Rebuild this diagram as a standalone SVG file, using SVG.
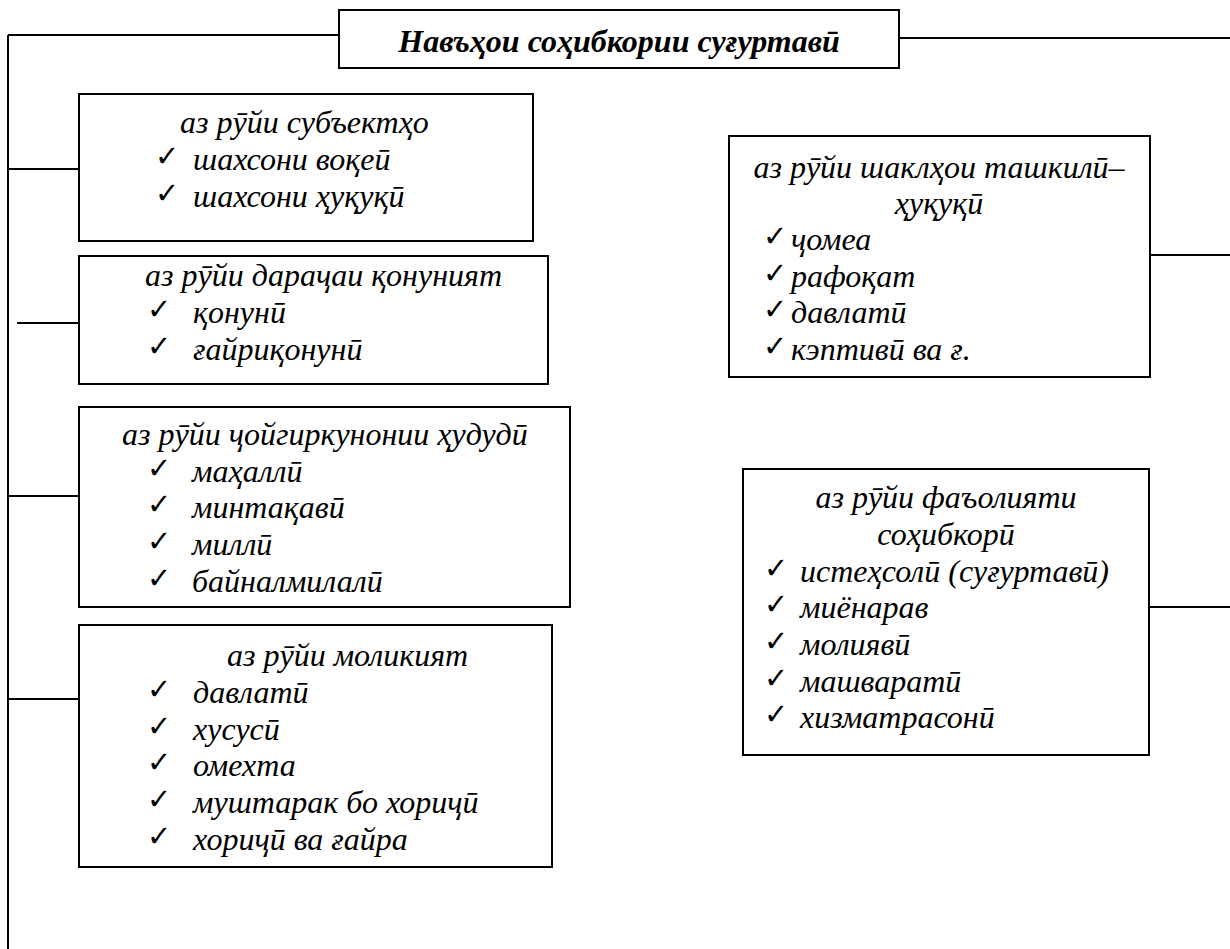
<svg xmlns="http://www.w3.org/2000/svg" width="1230" height="949" viewBox="0 0 1230 949">
<style>
.box{fill:#fff;stroke:#000;stroke-width:2}
.ln{fill:none;stroke:#000;stroke-width:2}
.t{font-family:"Liberation Serif","Times New Roman",serif;font-style:italic;font-size:32px;fill:#000}
.h{font-family:"Liberation Serif","Times New Roman",serif;font-style:italic;font-weight:bold;font-size:32px;fill:#000}
.c{font-family:"DejaVu Sans",sans-serif;font-weight:bold;font-size:29px;fill:#000}
.m{text-anchor:middle}
</style>
<rect width="1230" height="949" fill="#fff"/>
<g id="connectors">
<path class="ln" d="M8 35 H339 M8 35 V949 M899 38 H1230 M8 169 H79 M17 323 H88 M8 496 H79 M8 699 H79 M1150 255 H1230 M1149 607 H1230"/>
</g>
<g id="title">
<rect class="box" x="339" y="10" width="560" height="58"/>
<text class="h m" x="619" y="52">Навъҳои соҳибкории суғуртавӣ</text>
</g>
<g id="subjects">
<rect class="box" x="79" y="94" width="454" height="147"/>
<text class="t" x="180" y="133">аз рӯйи субъектҳо</text>
<text class="c" x="155" y="166">✓</text><text class="t" x="193" y="170">шахсони воқеӣ</text>
<text class="c" x="155" y="203">✓</text><text class="t" x="193" y="207">шахсони ҳуқуқӣ</text>
</g>
<g id="legality">
<rect class="box" x="79" y="256" width="469" height="128"/>
<text class="t" x="145" y="286">аз рӯйи дараҷаи қонуният</text>
<text class="c" x="147" y="319">✓</text><text class="t" x="193" y="323">қонунӣ</text>
<text class="c" x="147" y="356">✓</text><text class="t" x="193" y="360">ғайриқонунӣ</text>
</g>
<g id="territory">
<rect class="box" x="79" y="407" width="491" height="200"/>
<text class="t" x="122" y="445">аз рӯйи ҷойгиркунонии ҳудудӣ</text>
<text class="c" x="147" y="478">✓</text><text class="t" x="192" y="482">маҳаллӣ</text>
<text class="c" x="147" y="514">✓</text><text class="t" x="192" y="518">минтақавӣ</text>
<text class="c" x="147" y="551">✓</text><text class="t" x="192" y="555">миллӣ</text>
<text class="c" x="147" y="588">✓</text><text class="t" x="192" y="592">байналмилалӣ</text>
</g>
<g id="ownership">
<rect class="box" x="79" y="625" width="473" height="242"/>
<text class="t" x="227" y="666">аз рӯйи моликият</text>
<text class="c" x="147" y="699">✓</text><text class="t" x="193" y="703">давлатӣ</text>
<text class="c" x="147" y="736">✓</text><text class="t" x="193" y="740">хусусӣ</text>
<text class="c" x="147" y="772">✓</text><text class="t" x="193" y="776">омехта</text>
<text class="c" x="147" y="809">✓</text><text class="t" x="193" y="813">муштарак бо хориҷӣ</text>
<text class="c" x="147" y="846">✓</text><text class="t" x="193" y="850">хориҷӣ ва ғайра</text>
</g>
<g id="legal-forms">
<rect class="box" x="729" y="136" width="421" height="241"/>
<text class="t m" x="939" y="178">аз рӯйи шаклҳои ташкилӣ–</text>
<text class="t m" x="939" y="214">ҳуқуқӣ</text>
<text class="c" x="763" y="246">✓</text><text class="t" x="791" y="250">ҷомеа</text>
<text class="c" x="763" y="283">✓</text><text class="t" x="791" y="287">рафоқат</text>
<text class="c" x="763" y="319">✓</text><text class="t" x="791" y="323">давлатӣ</text>
<text class="c" x="763" y="356">✓</text><text class="t" x="791" y="360">кэптивӣ ва ғ.</text>
</g>
<g id="activity">
<rect class="box" x="743" y="469" width="406" height="286"/>
<text class="t m" x="946" y="508">аз рӯйи фаъолияти</text>
<text class="t m" x="946" y="545">соҳибкорӣ</text>
<text class="c" x="764" y="578">✓</text><text class="t" x="800" y="582">истеҳсолӣ (суғуртавӣ)</text>
<text class="c" x="764" y="614">✓</text><text class="t" x="800" y="618">миёнарав</text>
<text class="c" x="764" y="651">✓</text><text class="t" x="800" y="655">молиявӣ</text>
<text class="c" x="764" y="688">✓</text><text class="t" x="800" y="692">машваратӣ</text>
<text class="c" x="764" y="724">✓</text><text class="t" x="800" y="728">хизматрасонӣ</text>
</g>
</svg>
